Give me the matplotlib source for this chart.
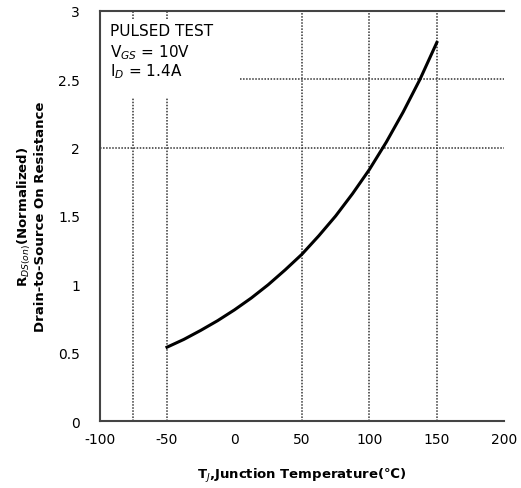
import matplotlib.pyplot as plt

# junction temperature (C) vs normalized on-resistance
temps = [-50, -37.5, -25, -12.5, 0, 12.5, 25, 37.5, 50, 62.5, 75, 87.5,
         100, 112.5, 125, 137.5, 150]
rds_norm = [0.54, 0.597, 0.663, 0.734, 0.813, 0.90, 0.997, 1.105, 1.22, 1.355,
            1.50, 1.663, 1.84, 2.04, 2.26, 2.50, 2.77]

x_ticks = [-100, -50, 0, 50, 100, 150, 200]
x_labels = ['-100', '-50', '0', '50', '100', '150', '200']
y_ticks = [0, 0.5, 1, 1.5, 2, 2.5, 3]
y_labels = ['0', '0.5', '1', '1.5', '2', '2.5', '3']

fig = plt.figure(figsize=(5.21, 4.89), dpi=100)
ax = fig.add_axes([0.191, 0.137, 0.777, 0.8385])

grid_kw = dict(color='#333333', linestyle=(0, (1, 1)), linewidth=1.1, zorder=1)
# vertical grid lines
for xv in [50, 100, 150]:
    ax.plot([xv, xv], [0, 3], **grid_kw)
for xv in [-75, -50]:
    ax.plot([xv, xv], [0, 2.36], **grid_kw)
    ax.plot([xv, xv], [2.94, 3], **grid_kw)
# horizontal grid lines
ax.plot([-100, 200], [2, 2], **grid_kw)
ax.plot([4, 200], [2.5, 2.5], **grid_kw)

ax.plot(temps, rds_norm, color='black', linewidth=2.2, zorder=3,
        solid_joinstyle='round')

ax.set_xlim(-100, 200)
ax.set_ylim(0, 3)
ax.set_xticks(x_ticks)
ax.set_xticklabels(x_labels)
ax.set_yticks(y_ticks)
ax.set_yticklabels(y_labels)
ax.tick_params(length=0, labelsize=10)
ax.tick_params(axis='y', pad=14)
ax.tick_params(axis='x', pad=8)

for side in ['left', 'bottom', 'top']:
    ax.spines[side].set_color('#444444')
    ax.spines[side].set_linewidth(1.5)
ax.spines['right'].set_visible(False)

ax.text(-92, 2.855, 'PULSED TEST', fontsize=11, va='center')
ax.text(-92, 2.70, r'V$_{GS}$ = 10V', fontsize=11, va='center')
ax.text(-92, 2.56, r'I$_D$ = 1.4A', fontsize=11, va='center')

ax.set_xlabel('T$_J$,Junction Temperature(\u2103)', fontsize=9.5, labelpad=14,
              fontweight='bold')
ax.set_ylabel('R$_{DS(on)}$(Normalized)\nDrain-to-Source On Resistance',
              fontsize=9.5, labelpad=8, fontweight='bold', linespacing=1.05)

fig.savefig('out.png', dpi=100)
